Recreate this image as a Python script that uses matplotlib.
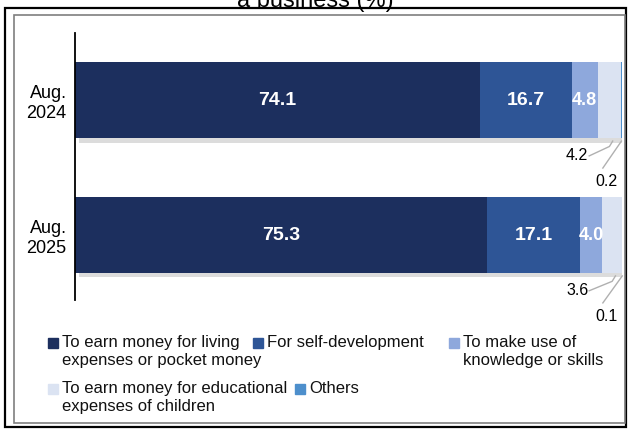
import matplotlib.pyplot as plt
import matplotlib.patheffects as pe
from matplotlib.patches import Rectangle

plt.rcParams['font.family'] = ['Liberation Sans', 'DejaVu Sans']

periods = ["Aug.\n2025", "Aug.\n2024"]
living = [75.3, 74.1]
self_dev = [17.1, 16.7]
knowledge = [4.0, 4.8]
education = [3.6, 4.2]
others = [0.1, 0.2]

series_names = [
    "To earn money for living\nexpenses or pocket money",
    "For self-development",
    "To make use of\nknowledge or skills",
    "To earn money for educational\nexpenses of children",
    "Others",
]
colors = ["#1c2f5e", "#2e5596", "#8ea8dc", "#dbe3f2", "#4d8fcc"]

W, H = 628, 429
fig = plt.figure(figsize=(W / 100, H / 100), dpi=100)


def fx(px):
    return px / W


def fy(py):
    return 1 - py / H


# frames
fig.patches.append(Rectangle((fx(5), fy(427)), fx(621), 419 / H, transform=fig.transFigure,
                             fill=False, edgecolor="black", lw=1.6))
fig.patches.append(Rectangle((fx(14), fy(423)), fx(611), 408 / H, transform=fig.transFigure,
                             fill=False, edgecolor="#7f7f7f", lw=1.2))

# title, cut off at the top edge as in the source image
fig.text(fx(315), fy(7), "a business (%)", ha="center", va="baseline", fontsize=17)

ax = fig.add_axes([fx(75), fy(300), fx(622) - fx(75), (300 - 33) / H])
y = [0, 1]
h = 0.563
shadow = [pe.SimplePatchShadow(offset=(3, -3), shadow_rgbFace="#777777", alpha=0.25), pe.Normal()]

data = [living, self_dev, knowledge, education, others]
left = [0.0, 0.0]
for vals, c in zip(data, colors):
    bars = ax.barh(y, vals, left=left, height=h, color=c, edgecolor="none")
    for b in bars:
        b.set_path_effects(shadow)
    left = [l + v for l, v in zip(left, vals)]

# labels inside bars
for i in range(2):
    start = 0.0
    for k, vals in enumerate(data[:3]):
        v = vals[i]
        ax.text(start + v / 2, y[i], f"{v:.1f}", ha="center", va="center",
                color="white", fontsize=14 if k < 2 else 13, fontweight="bold")
        start += v

# outside labels with leader lines
for i in range(2):
    base = living[i] + self_dev[i] + knowledge[i]
    bot = y[i] - h / 2
    edu_mid = base + education[i] / 2
    end = base + education[i] + others[i] / 2
    ax.text(91.8, bot - 0.13, f"{education[i]:.1f}", ha="center", va="center", fontsize=11.5)
    ax.plot([94.0, edu_mid, edu_mid + 0.6], [bot - 0.13, bot - 0.06, bot - 0.02],
            color="#b0b0b0", lw=1, clip_on=False)
    ax.text(97.2, bot - 0.32, f"{others[i]:.1f}", ha="center", va="center", fontsize=11.5)
    ax.plot([end, 96.5], [bot - 0.02, bot - 0.22], color="#b0b0b0", lw=1, clip_on=False)

ax.set_xlim(0, 100)
ax.set_ylim(-0.48, 1.5)
ax.set_yticks(y)
ax.set_yticklabels(periods, fontsize=13)
ax.tick_params(axis="y", length=0, pad=6)
ax.set_xticks([])
for s in ["top", "right", "bottom"]:
    ax.spines[s].set_visible(False)
ax.spines["left"].set_color("black")
ax.spines["left"].set_linewidth(1.3)

# legend drawn by hand
legend_pos = [(48, 343), (253, 343), (449, 343), (48, 389), (295, 389)]
for (px, py), name, c in zip(legend_pos, series_names, colors):
    fig.patches.append(Rectangle((fx(px), fy(py + 5)), fx(10), 10 / H,
                                 transform=fig.transFigure, color=c))
    fig.text(fx(px + 14), fy(py - 8), name, ha="left", va="top", fontsize=12,
             linespacing=1.25, color="#111111")

fig.savefig("out.png", dpi=100)
